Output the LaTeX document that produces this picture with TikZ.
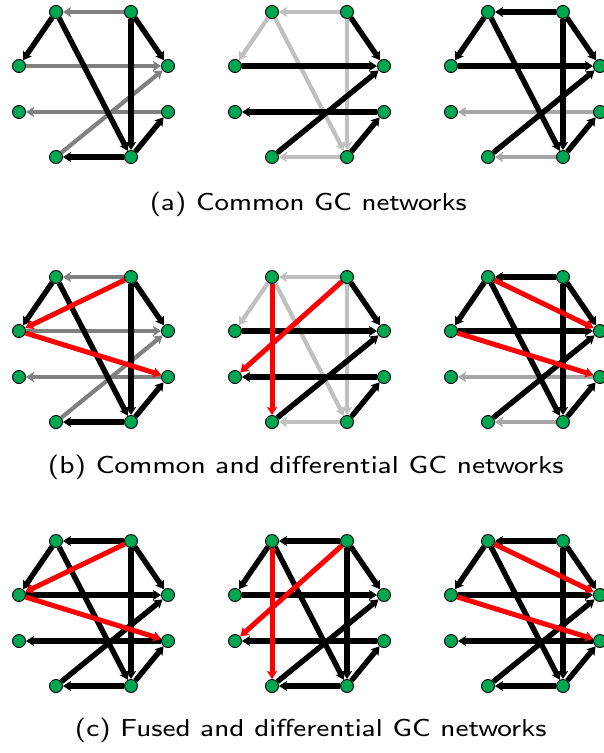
\documentclass[tikz,border=0pt]{standalone}
\usetikzlibrary{arrows.meta,backgrounds}
\definecolor{nodegreen}{RGB}{0,166,81}
\definecolor{gA}{RGB}{128,128,128}
\definecolor{gB}{RGB}{192,192,192}
\definecolor{gC}{RGB}{166,166,166}
\definecolor{rd}{RGB}{255,0,0}
\font\capfnt=cmss8 at 24.5pt
\tikzset{
  vx/.style={circle,draw=black,fill=nodegreen,line width=0.9pt,minimum size=13pt,inner sep=0pt},
  ed/.style={line width=5.4pt,-{Stealth[length=8pt,width=10pt,inset=1.5pt]}},
  eblk/.style={ed,black},
  egA/.style={ed,gA,line width=4.2pt},
  egB/.style={ed,gB,line width=4.2pt},
  egC/.style={ed,gC,line width=4.2pt},
  ered/.style={ed,rd,line width=5pt},
  captext/.style={font=\capfnt,anchor=center,inner sep=0pt},
}
\newcommand{\mkgraph}[3]{%
  \node[vx] (#1A) at ({#2+56},{#3+12}) {};
  \node[vx] (#1B) at ({#2+131},{#3+12}) {};
  \node[vx] (#1C) at ({#2+168},{#3+66}) {};
  \node[vx] (#1D) at ({#2+168},{#3+112}) {};
  \node[vx] (#1E) at ({#2+131},{#3+157}) {};
  \node[vx] (#1F) at ({#2+56},{#3+157}) {};
  \node[vx] (#1G) at ({#2+19},{#3+112}) {};
  \node[vx] (#1H) at ({#2+19},{#3+66}) {};
}
\newcommand{\edges}[2]{%
  \begin{pgfonlayer}{background}
  \foreach \s/\t/\c in {#2} {\draw[\c] (#1\s) -- (#1\t);}
  \end{pgfonlayer}
}
\begin{document}
\begin{tikzpicture}[x=1pt,y=-1pt]
\useasboundingbox (0,0) rectangle (603,753);
% row 1
\mkgraph{pa}{0}{0}
\mkgraph{pb}{216}{0}
\mkgraph{pc}{432}{0}
\edges{pa}{B/A/egA,H/C/egA,D/G/egA,F/C/egA,A/H/eblk,A/E/eblk,B/C/eblk,B/E/eblk,E/F/eblk,E/D/eblk}
\edges{pb}{B/A/egB,A/H/egB,A/E/egB,B/E/egB,E/F/egB,B/C/eblk,H/C/eblk,D/G/eblk,F/C/eblk,E/D/eblk}
\edges{pc}{D/G/egC,E/F/egC,B/A/eblk,A/H/eblk,A/E/eblk,B/C/eblk,B/E/eblk,H/C/eblk,F/C/eblk,E/D/eblk}
\node[captext] (capa) at (308.5,204) {\resizebox{317pt}{\height}{(a) Common GC networks}};
% row 2
\mkgraph{qa}{0}{265}
\mkgraph{qb}{216}{265}
\mkgraph{qc}{432}{265}
\edges{qa}{B/A/egA,H/C/egA,D/G/egA,F/C/egA,A/H/eblk,A/E/eblk,B/C/eblk,B/E/eblk,E/F/eblk,E/D/eblk,B/H/ered,H/D/ered}
\edges{qb}{B/A/egB,A/H/egB,A/E/egB,B/E/egB,E/F/egB,B/C/eblk,H/C/eblk,D/G/eblk,F/C/eblk,E/D/eblk,A/F/ered,B/G/ered}
\edges{qc}{D/G/egC,E/F/egC,B/A/eblk,A/H/eblk,A/E/eblk,B/C/eblk,B/E/eblk,H/C/eblk,F/C/eblk,E/D/eblk,A/C/ered,H/D/ered}
\node[captext] (capb) at (306,467) {\resizebox{516pt}{\height}{(b) Common and differential GC networks}};
% row 3
\mkgraph{ra}{0}{529}
\mkgraph{rb}{216}{529}
\mkgraph{rc}{432}{529}
\edges{ra}{B/A/eblk,H/C/eblk,D/G/eblk,F/C/eblk,A/H/eblk,A/E/eblk,B/C/eblk,B/E/eblk,E/F/eblk,E/D/eblk,B/H/ered,H/D/ered}
\edges{rb}{B/A/eblk,A/H/eblk,A/E/eblk,B/E/eblk,E/F/eblk,B/C/eblk,H/C/eblk,D/G/eblk,F/C/eblk,E/D/eblk,A/F/ered,B/G/ered}
\edges{rc}{D/G/eblk,E/F/eblk,B/A/eblk,A/H/eblk,A/E/eblk,B/C/eblk,B/E/eblk,H/C/eblk,F/C/eblk,E/D/eblk,A/C/ered,H/D/ered}
\node[captext] (capc) at (311,730) {\resizebox{472pt}{\height}{(c) Fused and differential GC networks}};
\end{tikzpicture}
\end{document}
